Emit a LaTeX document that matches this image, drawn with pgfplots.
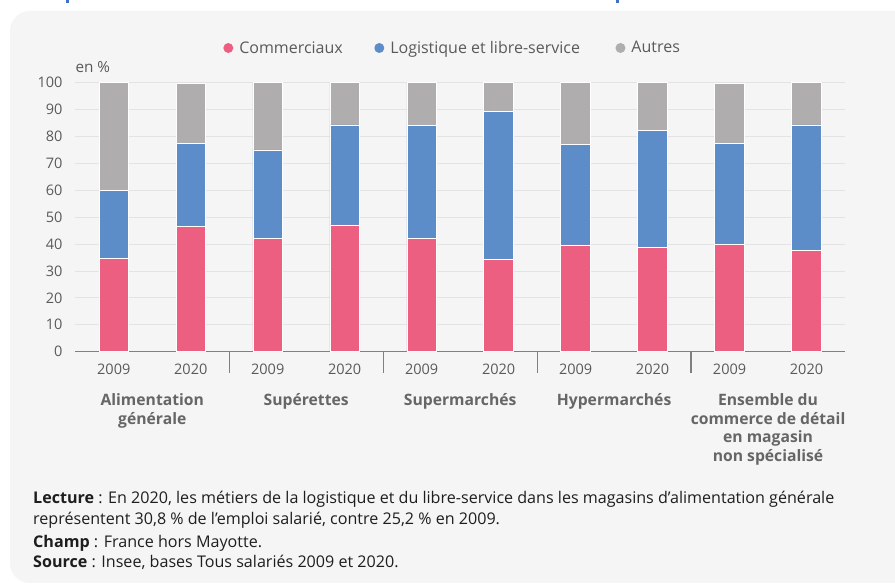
\documentclass[border=0pt]{standalone}
\usepackage{fontspec}
\setmainfont{Open Sans}
\usepackage{pgfplots}
\pgfplotsset{compat=1.18}
\definecolor{cpink}{HTML}{EC5F80}
\definecolor{cblue}{HTML}{5C8DC8}
\definecolor{cgray}{HTML}{AFADAE}
\definecolor{gridgray}{HTML}{E3E3E3}
\definecolor{axisgray}{HTML}{808080}
\definecolor{tickgray}{HTML}{5A5A5A}
\definecolor{catgray}{HTML}{666666}
\definecolor{panel}{HTML}{F5F5F5}
\definecolor{titleblue}{HTML}{3D6FC6}
\definecolor{notetext}{HTML}{1E1E1E}
\begin{document}
\begin{tikzpicture}
\useasboundingbox (0,0) rectangle (895pt,586pt);
\clip (0,0) rectangle (895pt,586pt);
\fill[white] (0,0) rectangle (895pt,586pt);
\fill[panel, rounded corners=20pt] (10pt,3pt) rectangle (930pt,575pt);
\fill[titleblue] (65.5pt,583pt) rectangle (68.5pt,586pt);
\fill[titleblue] (615.5pt,583pt) rectangle (618.5pt,586pt);
\begin{axis}[
  at={(75.3pt,234.3pt)}, anchor=south west,
  scale only axis, width=769.7pt, height=269pt,
  xmin=-0.5, xmax=9.5, ymin=0, ymax=100,
  ybar stacked, bar width=29.5pt,
  clip=false,
  /pgf/number format/assume math mode=true,
  axis x line*=bottom, axis y line*=left,
  y axis line style={draw=none},
  x axis line style={-, draw=axisgray, line width=1.2pt},
  ytick={0,10,...,100},
  ymajorgrids, grid style={draw=gridgray, line width=0.9pt},
  major tick length=0pt,
  ytick style={draw=none},
  xtick={0,...,9},
  xticklabels={2009,2020,2009,2020,2009,2020,2009,2020,2009,2020},
  extra x ticks={1.5,3.5,5.5,7.5},
  extra x tick labels={},
  extra x tick style={major tick length=21pt, tick align=outside, xtick style={draw=axisgray, line width=1.2pt}},
  yticklabel style={font=\fontsize{14.5}{17}\selectfont, text=tickgray, anchor=east, inner sep=0pt, xshift=-12.6pt},
  xticklabel style={font=\fontsize{14.5}{17}\selectfont, text=tickgray, anchor=base, inner sep=0pt, yshift=-23pt},
  legend columns=3,
  legend style={at={(0.1923,1.1290)}, anchor=west, draw=none, fill=none, inner sep=0pt, outer sep=0pt,
    font=\fontsize{16}{19}\selectfont, text=tickgray,
    nodes={inner sep=0pt},
    /tikz/every odd column/.append style={column sep=6pt},
    /tikz/every even column/.append style={column sep=31.5pt}},
  legend cell align=left,
  legend image code/.code={\fill[#1, draw=none] (5pt,0pt) circle (5pt);},
]
\addplot[fill=cpink, draw=white, line width=0.8pt] coordinates {(0,34.8) (1,46.7) (2,42.2) (3,47.1) (4,42.2) (5,34.4) (6,39.7) (7,38.8) (8,39.9) (9,37.8)};
\addplot[fill=cblue, draw=white, line width=0.8pt] coordinates {(0,25.2) (1,30.8) (2,32.8) (3,37.2) (4,42.0) (5,54.8) (6,37.4) (7,43.4) (8,37.6) (9,46.5)};
\addplot[fill=cgray, draw=white, line width=0.8pt] coordinates {(0,40.0) (1,22.2) (2,25.0) (3,15.7) (4,15.8) (5,10.8) (6,22.9) (7,17.8) (8,22.1) (9,15.7)};
\legend{Commerciaux, Logistique et libre-service\rule{4pt}{0pt}, Autres}
\tikzset{cat/.style={anchor=north, inner sep=0pt, align=center, text=catgray, font=\fontsize{15.7}{18.8}\selectfont\bfseries, yshift=-41.5pt}}
\node[cat] at (axis cs:0.5,0) {Alimentation\\générale};
\node[cat] at (axis cs:2.5,0) {Supérettes};
\node[cat] at (axis cs:4.5,0) {Supermarchés};
\node[cat] at (axis cs:6.5,0) {Hypermarchés};
\node[cat] at (axis cs:8.5,0) {Ensemble du\\commerce de détail\\en magasin\\non spécialisé};
\end{axis}
\node[anchor=base west, inner sep=0pt, text=tickgray, font=\fontsize{15.3}{18}\selectfont] at (75.3pt,513.7pt) {en \%};
\begin{scope}[every node/.style={anchor=base west, inner sep=0pt, text=notetext, font=\fontsize{16.1}{18}\selectfont}]
\node at (33pt,82.7pt) {\textbf{Lecture} : En 2020, les métiers de la logistique et du libre-service dans les magasins d’alimentation générale};
\node at (33pt,61pt) {représentent 30,8 \% de l’emploi salarié, contre 25,2 \% en 2009.};
\node at (33pt,38.5pt) {\textbf{Champ} : France hors Mayotte.};
\node at (33pt,18.5pt) {\textbf{Source} : Insee, bases Tous salariés 2009 et 2020.};
\end{scope}
\end{tikzpicture}
\end{document}
